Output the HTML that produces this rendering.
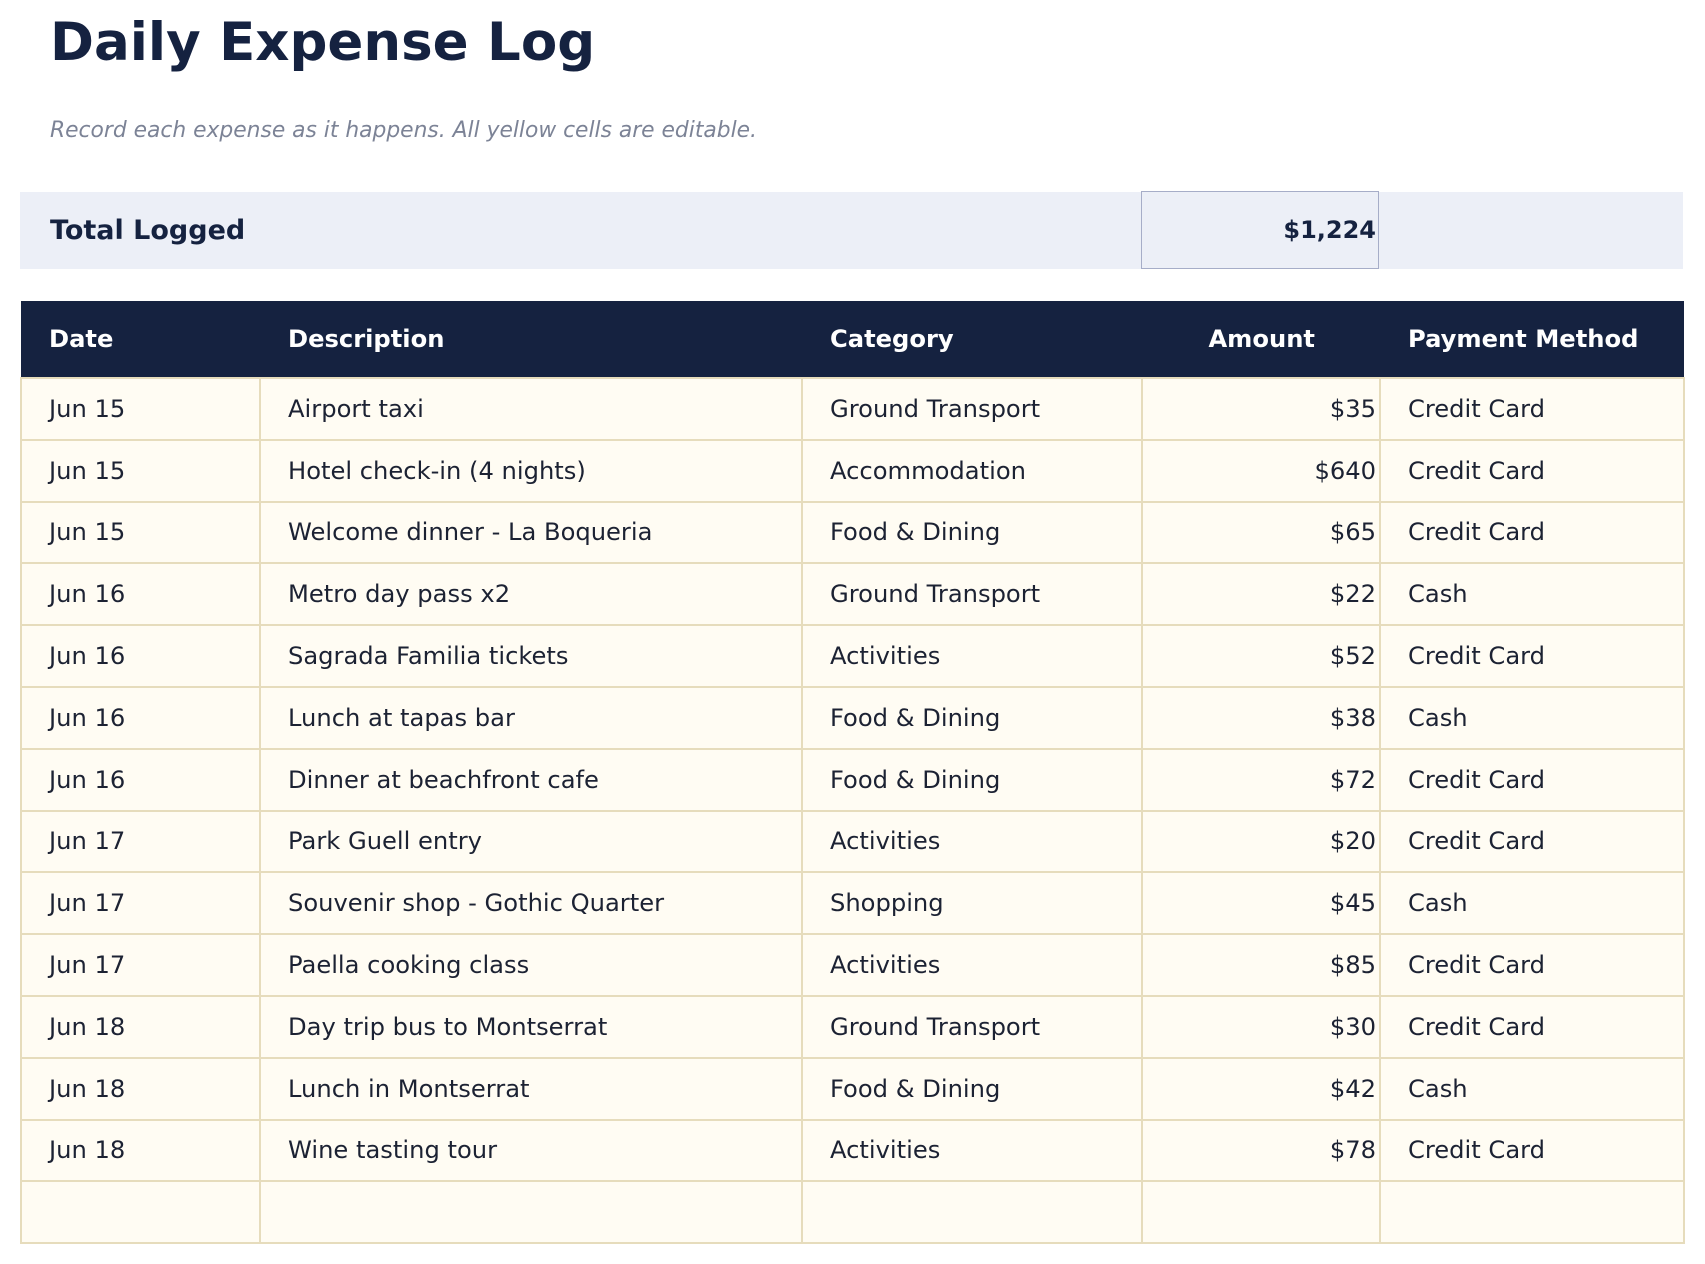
<!DOCTYPE html>
<html><head><meta charset="utf-8"><style>
body{margin:0;width:1705px;height:1264px;background:#fff;font-family:"DejaVu Sans","Liberation Sans",sans-serif;position:relative;overflow:hidden;color:#1c2233}
.t{position:absolute;left:50px;top:10px;font-size:53px;font-weight:bold;color:#152240;line-height:66px}
.s{position:absolute;left:50px;top:117px;font-size:21.8px;font-style:italic;color:#7c8396;line-height:28px}
.tot{position:absolute;left:20px;top:192px;width:1663px;height:77px;background:#eceff7}
.tot .l{position:absolute;left:30px;top:0;line-height:77px;font-size:27px;font-weight:bold;color:#152240}
.tot .b{position:absolute;left:1121px;top:-1px;width:238px;height:78px;border:1.5px solid #a6adc8;box-sizing:border-box;text-align:right;padding-right:2px;line-height:76px;font-size:24px;font-weight:bold;color:#152240}
table{position:absolute;left:20px;top:301px;border-collapse:collapse;width:1663px;table-layout:fixed;font-size:24.2px}
th{background:#152240;color:#fff;height:76px;text-align:left;padding:0 0 0 28px;font-weight:bold}
td{background:#fffcf3;border:2px solid #e6dcbc;height:59.8px;padding:0 0 0 27px;white-space:nowrap}
td.a,th.a{text-align:right;padding:0 3px 0 0}
</style></head><body>
<div class="t">Daily Expense Log</div>
<div class="s">Record each expense as it happens. All yellow cells are editable.</div>
<div class="tot"><div class="l">Total Logged</div><div class="b">$1,224</div></div>
<table>
<colgroup><col style="width:239px"><col style="width:542px"><col style="width:340px"><col style="width:238px"><col style="width:304px"></colgroup>
<tr><th>Date</th><th>Description</th><th>Category</th><th class="a" style="padding-right:65px">Amount</th><th style="padding-left:28px">Payment Method</th></tr>
<tr><td>Jun 15</td><td>Airport taxi</td><td>Ground Transport</td><td class="a">$35</td><td>Credit Card</td></tr>
<tr><td>Jun 15</td><td>Hotel check-in (4 nights)</td><td>Accommodation</td><td class="a">$640</td><td>Credit Card</td></tr>
<tr><td>Jun 15</td><td>Welcome dinner - La Boqueria</td><td>Food &amp; Dining</td><td class="a">$65</td><td>Credit Card</td></tr>
<tr><td>Jun 16</td><td>Metro day pass x2</td><td>Ground Transport</td><td class="a">$22</td><td>Cash</td></tr>
<tr><td>Jun 16</td><td>Sagrada Familia tickets</td><td>Activities</td><td class="a">$52</td><td>Credit Card</td></tr>
<tr><td>Jun 16</td><td>Lunch at tapas bar</td><td>Food &amp; Dining</td><td class="a">$38</td><td>Cash</td></tr>
<tr><td>Jun 16</td><td>Dinner at beachfront cafe</td><td>Food &amp; Dining</td><td class="a">$72</td><td>Credit Card</td></tr>
<tr><td>Jun 17</td><td>Park Guell entry</td><td>Activities</td><td class="a">$20</td><td>Credit Card</td></tr>
<tr><td>Jun 17</td><td>Souvenir shop - Gothic Quarter</td><td>Shopping</td><td class="a">$45</td><td>Cash</td></tr>
<tr><td>Jun 17</td><td>Paella cooking class</td><td>Activities</td><td class="a">$85</td><td>Credit Card</td></tr>
<tr><td>Jun 18</td><td>Day trip bus to Montserrat</td><td>Ground Transport</td><td class="a">$30</td><td>Credit Card</td></tr>
<tr><td>Jun 18</td><td>Lunch in Montserrat</td><td>Food &amp; Dining</td><td class="a">$42</td><td>Cash</td></tr>
<tr><td>Jun 18</td><td>Wine tasting tour</td><td>Activities</td><td class="a">$78</td><td>Credit Card</td></tr>
<tr><td></td><td></td><td></td><td class="a"></td><td></td></tr>
</table>
</body></html>
